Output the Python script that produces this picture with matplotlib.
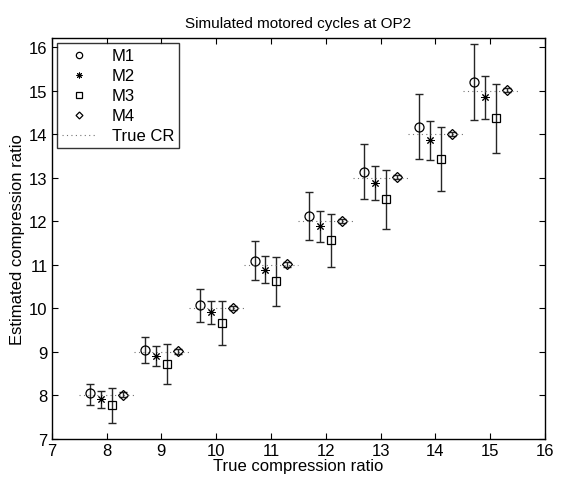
import matplotlib
matplotlib.use("Agg")
import matplotlib.pyplot as plt
import numpy as np

# true compression ratios
true_cr = [8, 9, 10, 11, 12, 13, 14, 15]

# estimates: mean, lower and upper end of error bar
m1_mean = [8.05, 9.05, 10.08, 11.09, 12.12, 13.14, 14.17, 15.20]
m1_low = [7.79, 8.74, 9.69, 10.64, 11.58, 12.51, 13.42, 14.33]
m1_high = [8.27, 9.35, 10.44, 11.54, 12.67, 13.78, 14.92, 16.06]

m2_mean = [7.93, 8.91, 9.91, 10.89, 11.89, 12.87, 13.86, 14.85]
m2_low = [7.72, 8.68, 9.63, 10.58, 11.53, 12.48, 13.41, 14.34]
m2_high = [8.11, 9.14, 10.17, 11.20, 12.23, 13.26, 14.30, 15.33]

m3_mean = [7.78, 8.73, 9.67, 10.62, 11.56, 12.50, 13.43, 14.36]
m3_low = [7.37, 8.27, 9.17, 10.05, 10.95, 11.83, 12.69, 13.56]
m3_high = [8.17, 9.19, 10.17, 11.18, 12.17, 13.17, 14.16, 15.15]

m4_mean = [8.02, 9.01, 10.01, 11.01, 12.01, 13.01, 14.01, 15.02]
m4_low = [7.97, 8.96, 9.96, 10.96, 11.96, 12.96, 13.96, 14.97]
m4_high = [8.07, 9.06, 10.06, 11.06, 12.06, 13.06, 14.06, 15.07]

# MATLAB style asterisk: 8 spokes
asterisk = (8, 2, 0)
methods = [
    ("M1", "o", -0.3, m1_mean, m1_low, m1_high),
    ("M2", asterisk, -0.1, m2_mean, m2_low, m2_high),
    ("M3", "s", 0.1, m3_mean, m3_low, m3_high),
    ("M4", "D", 0.3, m4_mean, m4_low, m4_high),
]
sizes = {"M1": 6.5, "M2": 6, "M3": 5.5, "M4": 5}
widths = {"M1": 0.9, "M2": 0.7, "M3": 0.9, "M4": 0.9}

plt.rcParams['font.family'] = ['Liberation Sans', 'DejaVu Sans']

fig = plt.figure(figsize=(5.69, 4.81), dpi=100)
ax = fig.add_axes([0.0909, 0.0852, 0.867, 0.833])

x = np.array(true_cr, dtype=float)
for name, mk, off, mean, lo, hi in methods:
    mean = np.array(mean)
    yerr = [mean - np.array(lo), np.array(hi) - mean]
    ax.errorbar(x + off, mean, yerr=yerr, fmt='none', ecolor='0.15',
                elinewidth=1.0, capsize=3, capthick=1.0)
    ax.plot(x + off, mean, linestyle='none', marker=mk, mfc='none',
            mec='k', mew=widths[name], ms=sizes[name], label=name)

# true CR reference segments
for i, cr in enumerate(true_cr):
    ax.plot([cr - 0.5, cr + 0.5], [cr, cr], linestyle=(0, (1, 3)), color='0.45',
            lw=0.8, label="True CR" if i == 0 else None)

ax.set_xlim(7, 16)
ax.set_ylim(7, 16.2)
ax.set_xticks(range(7, 17))
ax.set_yticks(range(7, 17))
ax.tick_params(direction='in', top=True, right=True, labelsize=12, length=4, width=0.8,
               pad=3)
for s in ax.spines.values():
    s.set_linewidth(1.0)

ax.set_title("Simulated motored cycles at OP2", fontsize=11, pad=8)
ax.set_xlabel("True compression ratio", fontsize=12, labelpad=0)
ax.set_ylabel("Estimated compression ratio", fontsize=12, labelpad=3)

leg = ax.legend(loc='upper left', fontsize=12, frameon=True, fancybox=False,
                edgecolor='k', borderaxespad=0.3, handlelength=2.1, markerscale=0.7,
                borderpad=0.3, labelspacing=0.3, handletextpad=0.9)
leg.get_frame().set_linewidth(1.0)

fig.savefig("out.png", dpi=100)
